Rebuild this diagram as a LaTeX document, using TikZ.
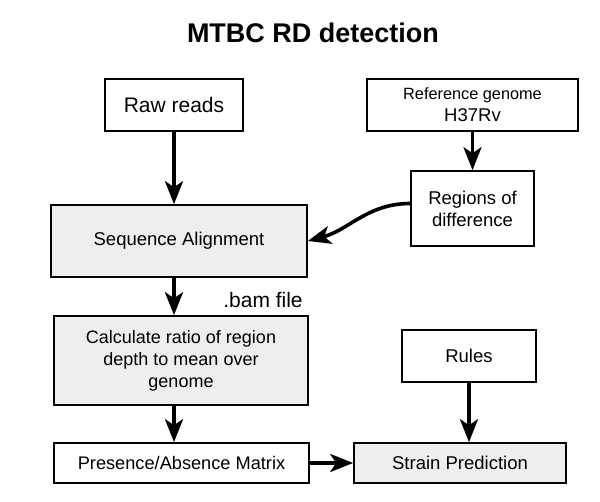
\documentclass[tikz,border=0pt]{standalone}
\usepackage{fontspec}
\setmainfont{Liberation Sans}
\usetikzlibrary{arrows.meta}
\definecolor{stepgray}{RGB}{238,238,238}

\begin{document}
\begin{tikzpicture}[
    x=1pt,y=-1pt,
    box/.style={rectangle,draw=black,line width=1.6pt,fill=white,
      align=center,inner sep=0pt,font=\fontsize{18.5}{22}\selectfont},
    graybox/.style={box,fill=stepgray},
    arrow/.style={-{Stealth[length=23pt,width=18pt,inset=6pt]},line width=3.6pt}
  ]
    \useasboundingbox (0,0) rectangle (600,502);
    \node[font=\bfseries\fontsize{27}{30}\selectfont] (title) at (313,33) {MTBC RD detection};

    \node[box,minimum width=138,minimum height=52,font=\fontsize{21}{24}\selectfont] (raw) at (174,105) {Raw reads};
    \node[box,minimum width=211,minimum height=52] (ref) at (472.5,105)
      {{\fontsize{16.3}{23}\selectfont Reference genome}\\H37Rv};
    \node[box,minimum width=123,minimum height=75] (rod) at (472.5,208.5) {Regions of\\difference};
    \node[graybox,minimum width=256,minimum height=72] (seq) at (179,241) {Sequence Alignment};
    \node[graybox,minimum width=254,minimum height=89,font=\fontsize{18}{22}\selectfont] (calc) at (181,360.5)
      {Calculate ratio of region\\depth to mean over\\genome};
    \node[box,minimum width=255,minimum height=40,font=\fontsize{18.2}{22}\selectfont] (pam) at (181.5,463) {Presence/Absence Matrix};
    \node[box,minimum width=134,minimum height=52] (rules) at (469,356) {Rules};
    \node[graybox,minimum width=212,minimum height=40] (strain) at (460,463) {Strain Prediction};
    \node[font=\fontsize{21}{24}\selectfont] (bam) at (263,300) {.bam file};

    \draw[arrow] (raw.south -| raw) -- (raw |- seq.north);
    \draw[arrow] (ref) -- (rod);
    \draw[arrow] ([yshift=5pt]rod.west) to[out=180,in=15] (seq.east);
    \draw[arrow] (seq.south -| raw) -- (calc.north -| raw);
    \draw[arrow] (calc.south -| raw) -- (pam.north -| raw);
    \draw[arrow] (pam) -- (strain);
    \draw[arrow] (rules) -- (rules |- strain.north);
  \end{tikzpicture}
\end{document}
